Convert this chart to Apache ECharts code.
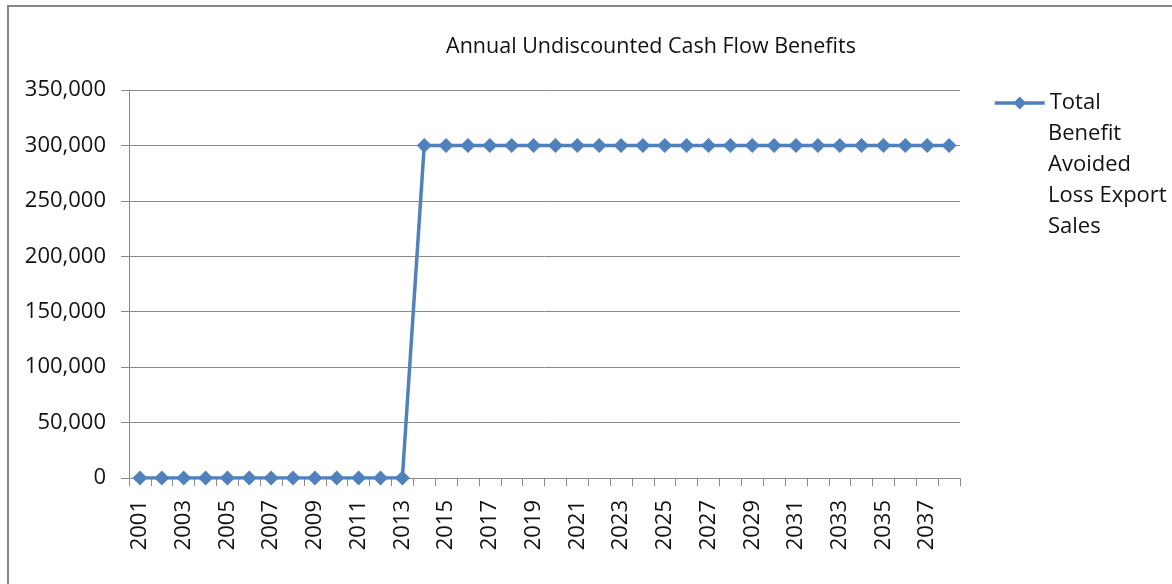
<!DOCTYPE html>
<html>
<head>
<meta charset="utf-8">
<script src="https://cdn.jsdelivr.net/npm/echarts@6/dist/echarts.min.js"></script>
<style>
  html, body { margin: 0; padding: 0; background: #fff; }
  #chart { width: 1172px; height: 584px; }
</style>
</head>
<body>
<div id="chart"></div>
<script>
// Annual benefit series, one value per year
const years = ['2001','2002','2003','2004','2005','2006','2007','2008','2009','2010',
  '2011','2012','2013','2014','2015','2016','2017','2018','2019','2020',
  '2021','2022','2023','2024','2025','2026','2027','2028','2029','2030',
  '2031','2032','2033','2034','2035','2036','2037','2038'];
const totalBenefit = [0,0,0,0,0,0,0,0,0,0,
  0,0,0,300000,300000,300000,300000,300000,300000,300000,
  300000,300000,300000,300000,300000,300000,300000,300000,300000,300000,
  300000,300000,300000,300000,300000,300000,300000,300000];
const seriesName = 'Total Benefit Avoided Loss Export Sales';
// legend label wrapped over several lines
const legendLines = ['Total', 'Benefit', 'Avoided', 'Loss Export', 'Sales'];
const chartTitle = 'Annual Undiscounted Cash Flow Benefits';

const FONT = 'Open Sans';
const TEXT = '#111';
const GRID = '#8a8a8a';
const BLUE = '#4F81BD';
const LH = 31;          // legend line spacing
const LEGEND_X = 993;   // legend icon left
const LEGEND_Y = 103;   // legend first-line centre

const chart = echarts.init(document.getElementById('chart'));
chart.setOption({
  animation: false,
  backgroundColor: '#fff',
  textStyle: { fontFamily: FONT },
  title: {
    text: chartTitle,
    left: 646,
    top: 31,
    textAlign: 'center',
    textStyle: { fontFamily: FONT, fontSize: 21.5, fontWeight: 'normal', color: TEXT }
  },
  graphic: [{
    type: 'rect',
    shape: { x: 8, y: 6, width: 1300, height: 700 },
    style: { fill: 'none', stroke: '#878787', lineWidth: 2 },
    silent: true
  }, {
    type: 'text',
    left: LEGEND_X + 55,
    top: LEGEND_Y + LH / 2,
    style: {
      text: legendLines.slice(1).join('\n'),
      fontFamily: FONT, fontSize: 22, fill: TEXT, lineHeight: LH
    },
    silent: true
  }],
  legend: {
    left: LEGEND_X,
    top: LEGEND_Y - LH / 2,
    padding: 0,
    orient: 'vertical',
    itemWidth: 50,
    itemHeight: 16,
    lineStyle: { width: 3.5 },
    formatter: () => legendLines[0],
    textStyle: { fontFamily: FONT, fontSize: 22, color: TEXT, lineHeight: LH },
    data: [seriesName]
  },
  grid: { left: 129, right: 212, top: 90, bottom: 106, containLabel: false },
  xAxis: {
    type: 'category',
    data: years,
    boundaryGap: true,
    axisLine: { lineStyle: { color: GRID, width: 1 } },
    axisTick: { show: true, interval: 0, length: 8, lineStyle: { color: GRID } },
    axisLabel: {
      interval: 1, rotate: 90, margin: 22,
      fontFamily: FONT, fontSize: 22, color: TEXT
    }
  },
  yAxis: {
    type: 'value',
    min: 0, max: 350000, interval: 50000,
    axisLine: { show: true, lineStyle: { color: GRID, width: 1 } },
    axisTick: { show: true, length: 8, lineStyle: { color: GRID } },
    splitLine: { show: true, lineStyle: { color: GRID, width: 1 } },
    axisLabel: {
      margin: 23,
      fontFamily: FONT, fontSize: 22, color: TEXT,
      formatter: v => v.toLocaleString('en-US')
    }
  },
  series: [{
    name: seriesName,
    type: 'line',
    data: totalBenefit,
    symbol: 'diamond',
    symbolSize: 15,
    showAllSymbol: true,
    itemStyle: { color: BLUE },
    lineStyle: { color: BLUE, width: 3.5 }
  }]
});
</script>
</body>
</html>
